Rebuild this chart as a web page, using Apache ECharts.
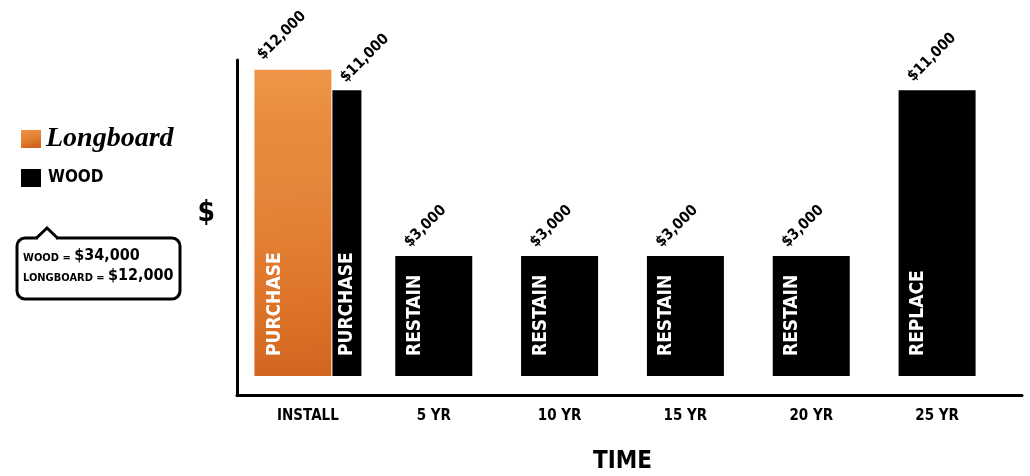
<!DOCTYPE html>
<html>
<head>
<meta charset="utf-8">
<script src="https://cdn.jsdelivr.net/npm/echarts@6/dist/echarts.min.js"></script>
<style>
html,body{margin:0;padding:0;background:#fff;}
#chart{width:1030px;height:476px;}
</style>
</head>
<body>
<div id="chart"></div>
<script>
// ---- data ----
const categories = ['INSTALL', '5 YR', '10 YR', '15 YR', '20 YR', '25 YR'];
const longboardCost = [12000, null, null, null, null, null];
const woodCost = [11000, 3000, 3000, 3000, 3000, 11000];
const longboardActions = ['PURCHASE', '', '', '', '', ''];
const woodActions = ['PURCHASE', 'RESTAIN', 'RESTAIN', 'RESTAIN', 'RESTAIN', 'REPLACE'];
const seriesNames = ['Longboard', 'WOOD'];

const woodTotal = woodCost.reduce((a, b) => a + (b || 0), 0);
const longboardTotal = longboardCost.reduce((a, b) => a + (b || 0), 0);

const NARROW = "'Liberation Sans Narrow','DejaVu Sans Condensed','Roboto Condensed','Arial Narrow',sans-serif";
const fmt = v => '$' + Number(v).toLocaleString('en-US');
const dash = v => (v == null ? '-' : v);

const chart = echarts.init(document.getElementById('chart'));

const lbGradient = {
  type: 'linear', x: 0, y: 0, x2: 0.25, y2: 1,
  colorStops: [
    { offset: 0, color: '#ee9748' }, { offset: 0.2, color: '#e98a3c' },
    { offset: 0.4, color: '#e5863a' }, { offset: 0.6, color: '#e27c30' },
    { offset: 0.8, color: '#dc7228' }, { offset: 1, color: '#d2661f' }
  ]
};

const topLabel = (vals, pos) => ({
  show: true,
  position: pos,
  rotate: 45,
  align: 'left',
  verticalAlign: 'bottom',
  fontFamily: NARROW,
  fontWeight: 'bold',
  fontSize: 15,
  color: '#000',
  formatter: p => (vals[p.dataIndex] == null ? '' : fmt(vals[p.dataIndex]))
});

const actionLabel = (acts, dx) => ({
  show: true,
  position: 'insideBottom',
  distance: 20,
  offset: [0, dx],
  rotate: 90,
  align: 'left',
  verticalAlign: 'middle',
  fontFamily: NARROW,
  fontWeight: 'bold',
  fontSize: 19,
  color: '#fff',
  formatter: p => acts[p.dataIndex]
});

const zeroAt = (vals) => vals.map(v => (v == null ? '-' : 0));

const woodInstall = woodCost.map((v, i) => (i === 0 ? v : null));
const woodLater = woodCost.map((v, i) => (i === 0 ? null : v));

const option = {
  animation: false,
  backgroundColor: '#fff',
  legend: {
    data: seriesNames,
    orient: 'vertical',
    left: 16,
    top: 120,
    itemGap: 16,
    itemWidth: 20,
    itemHeight: 18,
    icon: 'rect',
    selectedMode: false,
    formatter: n => (n === 'Longboard' ? '{lb|Longboard}' : '{wd|WOOD}'),
    textStyle: {
      rich: {
        lb: { fontFamily: "'Liberation Serif','DejaVu Serif',serif", fontStyle: 'italic', fontWeight: 'bold', fontSize: 28, color: '#000' },
        wd: { fontFamily: NARROW, fontWeight: 'bold', fontSize: 17, color: '#000', padding: [0, 0, 0, 2] }
      }
    }
  },
  grid: [
    { left: 245, right: 30, top: 60, bottom: 81, outerBoundsMode: 'none', containLabel: false },
    { left: 237, right: 8, top: 60, bottom: 81, outerBoundsMode: 'none', containLabel: false }
  ],
  xAxis: [
    {
      type: 'category', gridIndex: 0, data: categories,
      axisLine: { show: false }, axisTick: { show: false },
      axisLabel: { margin: 14, fontFamily: NARROW, fontWeight: 'bold', fontSize: 15, color: '#000' },
      name: 'TIME', nameLocation: 'middle', nameGap: 55,
      nameTextStyle: { fontFamily: NARROW, fontWeight: 'bold', fontSize: 24, color: '#000' }
    },
    { type: 'category', gridIndex: 0, data: categories, show: false },
    {
      type: 'value', gridIndex: 1, min: 0, max: 1,
      axisLine: { show: true, onZero: false, lineStyle: { color: '#000', width: 3 } },
      axisTick: { show: false }, axisLabel: { show: false }, splitLine: { show: false }
    }
  ],
  yAxis: [
    {
      type: 'value', gridIndex: 0, min: -3707, max: 12465, startValue: -2790,
      axisLine: { show: false }, axisTick: { show: false }, axisLabel: { show: false }, splitLine: { show: false },
      name: '$', nameLocation: 'middle', nameRotate: 0, nameGap: 30,
      nameTextStyle: { fontFamily: NARROW, fontWeight: 'bold', fontSize: 28, color: '#000', verticalAlign: 'bottom' }
    },
    {
      type: 'value', gridIndex: 1, min: 0, max: 1,
      axisLine: { show: true, onZero: false, lineStyle: { color: '#000', width: 3 } },
      axisTick: { show: false }, axisLabel: { show: false }, splitLine: { show: false }
    }
  ],
  series: [
    {
      name: 'Longboard', type: 'bar', xAxisIndex: 0, yAxisIndex: 0, stack: 'lb',
      barWidth: 77, barGap: '1.3%',
      data: longboardCost.map(dash),
      itemStyle: { color: lbGradient },
      label: actionLabel(longboardActions, -18)
    },
    {
      name: 'lbTop', type: 'bar', xAxisIndex: 0, yAxisIndex: 0, stack: 'lb',
      barWidth: 77, barGap: '1.3%',
      data: zeroAt(longboardCost),
      itemStyle: { color: 'rgba(0,0,0,0)' },
      label: topLabel(longboardCost, [11, -7])
    },
    {
      name: 'WOOD', type: 'bar', xAxisIndex: 0, yAxisIndex: 0, stack: 'wi',
      barWidth: 29, barGap: '1.3%',
      data: woodInstall.map(dash),
      itemStyle: { color: '#000' },
      label: actionLabel(woodActions, 0)
    },
    {
      name: 'wiTop', type: 'bar', xAxisIndex: 0, yAxisIndex: 0, stack: 'wi',
      barWidth: 29, barGap: '1.3%',
      data: zeroAt(woodInstall),
      itemStyle: { color: 'rgba(0,0,0,0)' },
      label: topLabel(woodInstall, [16, -5])
    },
    {
      name: 'WOOD', type: 'bar', xAxisIndex: 1, yAxisIndex: 0, stack: 'w',
      barWidth: 77,
      data: woodLater.map(dash),
      itemStyle: { color: '#000' },
      label: actionLabel(woodActions, -19)
    },
    {
      name: 'wTop', type: 'bar', xAxisIndex: 1, yAxisIndex: 0, stack: 'w',
      barWidth: 77,
      data: zeroAt(woodLater),
      itemStyle: { color: 'rgba(0,0,0,0)' },
      label: topLabel(woodLater, [17, -6])
    }
  ],
  graphic: [
    {
      type: 'rect',
      shape: { x: 17, y: 238, width: 163, height: 61, r: 8 },
      style: { fill: '#fff', stroke: '#000', lineWidth: 3 }
    },
    {
      type: 'rect',
      shape: { x: 38, y: 235.5, width: 18, height: 5 },
      style: { fill: '#fff' }
    },
    {
      type: 'polyline',
      shape: { points: [[36.5, 238], [47, 228], [57.5, 238]] },
      style: { stroke: '#000', lineWidth: 3, fill: null }
    },
    {
      type: 'text', left: 23, top: 248,
      style: {
        text: '{s|WOOD = }{b|' + fmt(woodTotal) + '}',
        rich: {
          s: { fontFamily: NARROW, fontWeight: 'bold', fontSize: 11, fill: '#000', verticalAlign: 'bottom' },
          b: { fontFamily: NARROW, fontWeight: 'bold', fontSize: 16, fill: '#000', verticalAlign: 'bottom' }
        }
      }
    },
    {
      type: 'text', left: 23, top: 268,
      style: {
        text: '{s|LONGBOARD = }{b|' + fmt(longboardTotal) + '}',
        rich: {
          s: { fontFamily: NARROW, fontWeight: 'bold', fontSize: 11, fill: '#000', verticalAlign: 'bottom' },
          b: { fontFamily: NARROW, fontWeight: 'bold', fontSize: 16, fill: '#000', verticalAlign: 'bottom' }
        }
      }
    }
  ]
};

chart.setOption(option);
</script>
</body>
</html>
